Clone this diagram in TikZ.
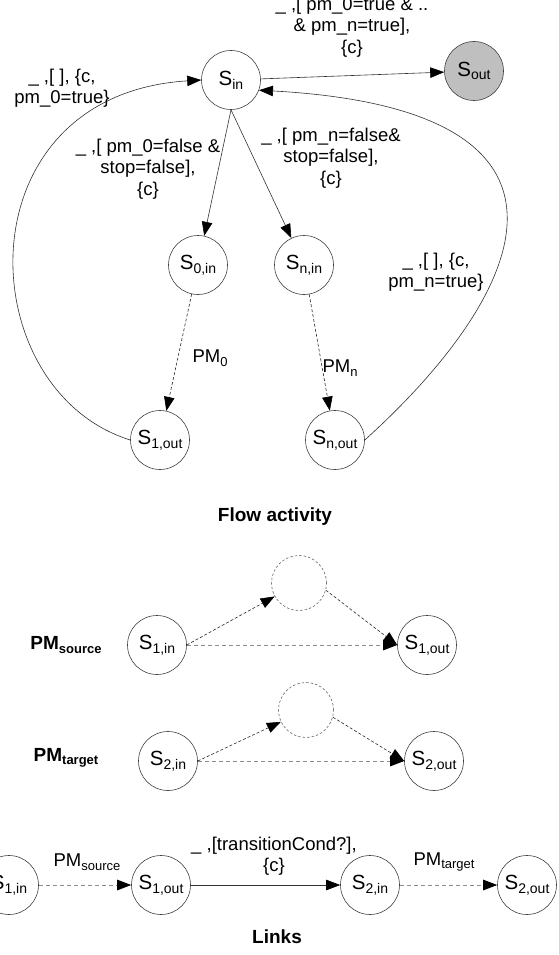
\documentclass[tikz,border=0pt]{standalone}
\usepackage{fontspec}
\setmainfont{Liberation Sans}
\usetikzlibrary{arrows.meta}
\newcommand\sbs[1]{\raisebox{-0.35ex}{\fontsize{14}{14}\selectfont #1}}
\newcommand\lsbs[1]{\raisebox{-0.35ex}{\fontsize{13}{13}\selectfont #1}}
\begin{document}
\begin{tikzpicture}[x=1pt,y=-1pt,
  st/.style={circle,draw=black!75,line width=0.6pt,minimum size=59pt,inner sep=0pt,font=\fontsize{20.5}{21}\selectfont},
  dst/.style={circle,draw=black!60,dash pattern=on 2.5pt off 2pt,line width=0.6pt,minimum size=55pt,inner sep=0pt},
  lbl/.style={align=center,font=\fontsize{18.5}{21.5}\selectfont,inner sep=0pt},
  ttl/.style={font=\bfseries\fontsize{19}{22}\selectfont,inner sep=0pt},
  tip/.style={-{Triangle[length=14pt,width=10.5pt,color=black]}},
  sol/.style={tip,line width=0.6pt,draw=black!80},
  dsh/.style={tip,line width=0.6pt,draw=black!85,dash pattern=on 3pt off 2pt},
  gdsh/.style={tip,line width=1pt,draw=black!45,dash pattern=on 4pt off 3pt},
]
\useasboundingbox (0,0) rectangle (558,955);

% ---------- Flow activity ----------
\node[st] (sin) at (231,80) {S\sbs{in}};
\node[st,fill=black!25] (sout) at (474,71) {S\sbs{out}};
\node[st] (s0in) at (198,265) {S\sbs{0,in}};
\node[st] (snin) at (304,265) {S\sbs{n,in}};
\node[st] (s1out) at (160,440) {S\sbs{1,out}};
\node[st] (snout) at (335,440) {S\sbs{n,out}};

\draw[sol] (sin) -- (sout);
\draw[sol] (sin.south) -- (s0in);
\draw[sol] (sin.south) -- (snin);
\draw[dsh] (s0in) -- (s1out);
\draw[dsh] (snin) -- (snout);
\draw[sol] (s1out.west) .. controls (-30,390) and (-40,95) .. (sin.west);
\draw[sol] (snout.east) .. controls (520,300) and (620,110) .. (sin.-20);

\node[lbl] (l1) at (352,27) {\_ ,[ pm\_0=true \& ..\\ \& pm\_n=true],\\ \{c\}};
\node[lbl] (l2) at (62,88) {\_ ,[ ], \{c,\\ pm\_0=true\}};
\node[lbl] (l3) at (148,169) {\_ ,[ pm\_0=false \&\\ stop=false],\\ \{c\}};
\node[lbl] (l4) at (331,158) {\_ ,[ pm\_n=false\&\\ stop=false],\\ \{c\}};
\node[lbl] (l5) at (436,272) {\_ ,[ ], \{c,\\ pm\_n=true\}};
\node[lbl] (pm0) at (210,358) {PM\lsbs{0}};
\node[lbl] (pmn) at (340,368) {PM\lsbs{n}};
\node[ttl] (flow) at (275,517) {Flow activity};

% ---------- PM source ----------
\node[ttl] (pmsrc) at (66,645) {PM\lsbs{source}};
\node[st] (a1in) at (157,645) {S\sbs{1,in}};
\node[st] (a1out) at (427,645) {S\sbs{1,out}};
\node[dst] (ad) at (299,583) {};
\draw[dsh] (a1in.east) -- (ad);
\draw[dsh] (ad.-15) -- (a1out.west);
\draw[gdsh] (a1in.east) -- (a1out.west);

% ---------- PM target ----------
\node[ttl] (pmtgt) at (66,758) {PM\lsbs{target}};
\node[st] (a2in) at (168,761) {S\sbs{2,in}};
\node[st] (a2out) at (434,761) {S\sbs{2,out}};
\node[dst] (ad2) at (306,710) {};
\draw[dsh] (a2in.east) -- (ad2);
\draw[dsh] (ad2.-15) -- (a2out.west);
\draw[gdsh] (a2in.east) -- (a2out.west);

% ---------- Links ----------
\node[st] (b1in) at (9,885) {S\sbs{1,in}};
\node[st] (b1out) at (161,885) {S\sbs{1,out}};
\node[st] (b2in) at (370,885) {S\sbs{2,in}};
\node[st] (b2out) at (527,885) {S\sbs{2,out}};
\draw[gdsh] (b1in) -- (b1out);
\draw[sol] (b1out) -- (b2in);
\draw[gdsh] (b2in) -- (b2out);
\node[lbl] (lpms) at (87,862) {PM\lsbs{source}};
\node[lbl] (ltc) at (274,856) {\_ ,[transitionCond?],\\ \{c\}};
\node[lbl] (lpmt) at (444,862) {PM\lsbs{target}};
\node[ttl] (links) at (277,937) {Links};
\end{tikzpicture}
\end{document}
